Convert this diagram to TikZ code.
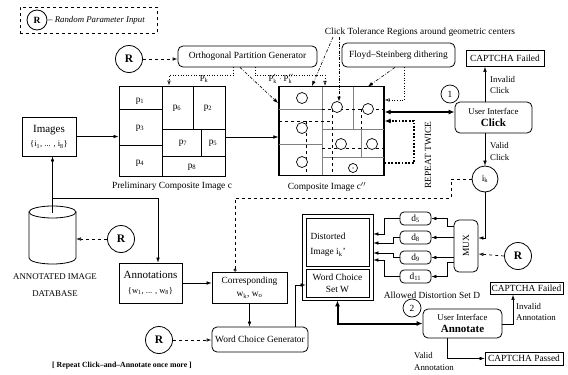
\documentclass[tikz,border=0pt]{standalone}
\usepackage{fontspec}
\setmainfont{Liberation Serif}
\usetikzlibrary{arrows.meta,calc}
\tikzset{
  base/.style={font=\fontsize{9.4}{10.8}\selectfont},
  box/.style={base,draw,line width=0.8pt,inner sep=1pt,align=center},
  rbox/.style={box,rounded corners=5pt},
  rcirc/.style={draw,circle,line width=0.8pt,minimum size=27pt,inner sep=0pt,font=\bfseries\fontsize{11.5}{12}\selectfont},
  ncirc/.style={draw,circle,line width=0.7pt,minimum size=18pt,inner sep=0pt,base},
  arr/.style={line width=0.6pt,-{Latex[length=5pt,width=3.6pt]}},
  darr/.style={line width=0.7pt,dashed,-{Latex[open,length=5pt,width=3.6pt]}},
  dotarr/.style={line width=0.6pt,dotted,-{Latex[open,length=5pt,width=3.6pt]}},
  ddarr/.style={line width=0.6pt,dash pattern=on 3pt off 1.5pt on 0.8pt off 1.5pt,-{Latex[length=5pt,width=3.6pt]}},
  thickarr/.style={line width=2pt,{Latex[length=6pt,width=5pt]}-{Latex[length=6pt,width=5pt]}},
  part/.style={line width=0.8pt},
  gpart/.style={line width=0.9pt,gray},
  tol/.style={line width=0.7pt,dashed},
  lbl/.style={base,inner sep=1pt}
}
\begin{document}
\begin{tikzpicture}[x=1pt,y=-1pt]
\useasboundingbox (0,0) rectangle (568,375);

% legend
\node[draw,dashed,line width=0.7pt,minimum width=137pt,minimum height=26pt] (legend) at (88.5,20) {};
\node[rcirc,minimum size=20pt,font=\bfseries\fontsize{9.5}{10}\selectfont] (legR) at (37,20) {R};
\node[lbl,anchor=west,font=\fontsize{8.8}{10}\selectfont] (legT) at (47,20) {-- \textit{Random Parameter Input}};

% orthogonal partition generator
\node[rcirc] (Rtop) at (129,59) {R};
\node[rbox,minimum width=139pt,minimum height=21pt] (opg) at (247.5,56.5) {Orthogonal Partition Generator};
\draw[darr] (Rtop) -- (Rtop -| opg.west);

% preliminary composite
\node[draw,line width=1pt,minimum width=106pt,minimum height=90pt] (prelim) at (172,131) {};
\draw[part] (162,86)--(162,176) (119,109)--(162,109) (119,145)--(162,145)
  (193,86)--(193,129) (162,129)--(225,129) (201,129)--(201,156) (162,156)--(225,156);
\node[lbl] (p1) at (140,101) {p\textsubscript{1}};
\node[lbl] (p3) at (140,128) {p\textsubscript{3}};
\node[lbl] (p4) at (140,163) {p\textsubscript{4}};
\node[lbl] (p6) at (177,108) {p\textsubscript{6}};
\node[lbl] (p2) at (208,108) {p\textsubscript{2}};
\node[lbl] (p7) at (183,143) {p\textsubscript{7}};
\node[lbl] (p5) at (213,143) {p\textsubscript{5}};
\node[lbl] (p8) at (192,167) {p$_{\mathrm{8}}$};
\node[lbl] (prelimcap) at (172,186) {Preliminary Composite Image c};

% composite image
\node[draw,line width=1.2pt,minimum width=105pt,minimum height=89pt] (comp) at (331.5,131) {};
\draw[gpart] (322,87)--(322,175) (279,109)--(322,109) (279,144)--(322,144)
  (353,87)--(353,129) (322,129)--(384,129) (361,129)--(361,157) (322,157)--(384,157);
\draw[tol] (279,121)--(332,121) (306,121)--(306,175) (332,109)--(332,175)
  (322,109)--(384,109) (361,109)--(361,129) (322,148)--(384,148);
\foreach \cx/\cy in {302/98,337/107,368/109,302/128,341/144,372/144,302/162}
  \draw[line width=0.7pt,fill=white] (\cx,\cy) circle (5.5);
\draw[line width=0.7pt,fill=white] (353,168) circle (4.5);
\fill (353,168) circle (0.7);
\node[lbl] (compcap) at (327,187) {Composite Image c$''$};

% dotted partition feeds
\coordinate (pkx) at (169,0);
\coordinate (pqx) at (325,0);
\draw[dotarr] ($(opg.south)+(-14.5,0)$) -- ++(0,8) -| (pkx |- prelim.north);
\draw[dotarr] ($(opg.south)+(7.5,0)$) -- ++(0,8) -| (pqx |- comp.north);
\node[lbl,font=\fontsize{8.8}{10}\selectfont] (pklab) at (204,79) {P\textsubscript{k}};
\node[lbl,font=\fontsize{8.8}{10}\selectfont] (pqlab) at (281,79) {$\mathrm{P}'_{\mathrm{k}}\cdot\mathrm{P}''_{\mathrm{k}}$};
\coordinate (opgT) at (278,103);
\draw[ddarr] ($(opg.south)+(-7.5,0)$) -- (opgT);

% click tolerance label
\node[lbl] (ctr) at (420,32) {Click Tolerance Regions around geometric centers};
\coordinate (ct0a) at (333,37);
\coordinate (ct0b) at (339,37);
\coordinate (ct1) at (312,86);
\coordinate (ct2) at (339,101.5);
\draw[ddarr] (ct0a) -- (ct1);
\draw[ddarr] (ct0b) -- (ct2);

% Floyd-Steinberg
\node[rbox,minimum width=113pt,minimum height=24pt] (floyd) at (398.5,55) {Floyd--Steinberg dithering};
\coordinate (fsT) at (368,86.5);
\draw[ddarr] ($(floyd.south)+(-3.5,0)$) -- (fsT);
\coordinate (c10) at (0,100);
\draw[dotarr] ($(floyd.south)+(5.5,0)$) |- (comp.east |- c10);

% images and database
\node[box,minimum width=54pt,minimum height=39pt] (images) at (49,136.5)
  {\fontsize{11}{12}\selectfont Images\\[4pt]\fontsize{8.5}{9}\selectfont \{i\textsubscript{1}, ... , i\textsubscript{8}\}};
\draw[arr] (images.east) -- (images.east -| prelim.west);
\draw[arr] ($(prelim.east)+(0,6)$) -- ($(comp.west)+(0,6)$);

\draw[line width=0.8pt] (52.5,212) ellipse[x radius=23.5,y radius=6];
\draw[line width=0.8pt] (29,212) -- (29,258) arc[start angle=180,end angle=0,x radius=23.5,y radius=6] -- (76,212);
\coordinate (dbtop) at (52.5,213);
\coordinate (dbR) at (76,239);
\coordinate (br) at (52.5,198);
\coordinate (brc) at (158,198);
\node[lbl,align=center,font=\fontsize{8.8}{17}\selectfont] (dblabel) at (55,285.5) {ANNOTATED IMAGE\\DATABASE};
\draw[arr] (dbtop) -- (dbtop |- images.south);
\node[rcirc] (Rdb) at (121,239) {R};
\draw[darr] (Rdb.west) -- (dbR);

\node[box,minimum width=63pt,minimum height=40pt] (annot) at (150.5,283)
  {\fontsize{11}{12}\selectfont Annotations\\[4pt]\fontsize{8.5}{9}\selectfont \{w\textsubscript{1}, ... , w\textsubscript{8}\}};
\draw[arr] (br) -- (brc) -- (brc |- annot.north);

\node[box,minimum width=75pt,minimum height=31pt] (corr) at (249.5,287.5) {Corresponding\\[3pt]w\textsubscript{k}, w\textsubscript{o}};
\draw[arr] (annot.east) -- (annot.east -| corr.west);

\node[rbox,minimum width=96pt,minimum height=25pt] (wcg) at (260,339.5) {Word Choice Generator};
\draw[arr] (corr.south) -- (corr.south |- wcg.north);
\node[rcirc] (Rwcg) at (159,340) {R};
\draw[darr] (Rwcg) -- (Rwcg -| wcg.west);

\node[lbl,font=\bfseries\fontsize{7.8}{9}\selectfont] (rep2) at (122,366) {[ Repeat Click--and--Annotate once more ]};

% distortion set box
\node[draw,line width=0.8pt,minimum width=71pt,minimum height=86pt] (D) at (337.5,257) {};
\node[box,minimum width=63pt,minimum height=48pt] (dist) at (337.5,242) {};
\node[lbl,align=center] (distT) at (328,245) {Distorted\\[4pt]Image i\textsubscript{k}'};
\node[box,minimum width=63pt,minimum height=28pt] (wcs) at (337.5,283) {Word Choice\\[1pt]Set W};
\coordinate (c3) at (295,285);
\draw[arr] (c3 |- wcg.north) -- (c3) -- (c3 -| wcs.west);

% annotate UI
\node[rbox,minimum width=79pt,minimum height=29pt] (uia) at (462.5,323.5)
  {\fontsize{8.8}{10}\selectfont User Interface\\[1pt]\fontsize{11}{12}\selectfont\bfseries Annotate};
\node[ncirc] (n2) at (412,308) {2};
\draw[thickarr] (D.south) -- (D.south |- uia.west) -- (uia.west);
\node[box,minimum width=73pt,minimum height=12pt] (cf2) at (526.5,288.5) {CAPTCHA Failed};
\coordinate (c4) at (513,324);
\draw[arr] (uia.east |- c4) -- (c4) -- (c4 |- cf2.south);
\node[lbl,anchor=west,align=left,font=\fontsize{8.8}{10.5}\selectfont] (invA) at (515,312) {Invalid\\Annotation};
\node[box,minimum width=78pt,minimum height=13pt] (cp) at (524,358.5) {CAPTCHA Passed};
\coordinate (c5) at (447,358.5);
\draw[arr] (c5 |- uia.south) -- (c5) -- (cp.west);
\node[lbl,anchor=west,align=left,font=\fontsize{8.8}{12}\selectfont] (valA) at (413,361) {Valid\\Annotation};

% MUX and distortions
\node[rbox,minimum width=24pt,minimum height=52pt] (mux) at (466,246) {};
\node[lbl,rotate=90] (muxT) at (mux) {MUX};
\node[ncirc,minimum size=26pt,line width=0.8pt] (ik) at (485,179) {i\textsubscript{k}};
\draw[arr] (ik.south) |- ($(mux.east)+(0,-8)$);
\node[rcirc] (Rmux) at (518,256) {R};
\draw[darr] (Rmux.west) -- ($(mux.east)+(0,8)$);

\node[rbox,rounded corners=4pt,minimum width=31pt,minimum height=13pt,inner sep=0pt] (d5) at (415.5,218.5) {d\textsubscript{5}};
\node[rbox,rounded corners=4pt,minimum width=31pt,minimum height=13pt,inner sep=0pt] (d8) at (415.5,237.5) {d\textsubscript{8}};
\node[rbox,rounded corners=4pt,minimum width=31pt,minimum height=13pt,inner sep=0pt] (d9) at (415.5,257.5) {d\textsubscript{9}};
\node[rbox,rounded corners=4pt,minimum width=31pt,minimum height=13pt,inner sep=0pt] (d11) at (415.5,276.5) {d\textsubscript{11}};
\draw[arr] ($(mux.west)+(0,-20)$) -- ++(-6,0) |- (d5.east);
\draw[arr] (mux.west |- d8.east) -- (d8.east);
\draw[arr] (mux.west |- d9.east) -- (d9.east);
\draw[arr] ($(mux.west)+(0,16)$) -- ++(-6,0) |- (d11.east);
\draw[arr] (d5.west) -- ++(-15,0) |- ($(D.east)+(0,-23)$);
\draw[arr] (d8.west) -- ++(-6,0) |- ($(D.east)+(0,-14)$);
\draw[arr] (d9.west) -- ++(-6,0) |- ($(D.east)+(0,-4)$);
\draw[arr] (d11.west) -- ++(-15,0) |- ($(D.east)+(0,3)$);
\node[lbl] (dlabel) at (432,295) {Allowed Distortion Set D};

% click UI
\node[rbox,minimum width=77pt,minimum height=31pt] (uic) at (493.5,117.5)
  {\fontsize{8.8}{10}\selectfont User Interface\\[1pt]\fontsize{11}{12}\selectfont\bfseries Click};
\node[ncirc] (n1) at (450,94) {1};
\node[box,minimum width=78pt,minimum height=16pt] (cf1) at (505,58.5) {CAPTCHA Failed};
\coordinate (c6) at (485,0);
\draw[arr] (c6 |- uic.north) -- (c6 |- cf1.south);
\node[lbl,anchor=west,align=left,font=\fontsize{8.8}{11}\selectfont] (invC) at (489,85) {Invalid\\Click};
\draw[arr] (c6 |- uic.south) -- (ik.north);
\node[lbl,anchor=west,align=left,font=\fontsize{8.8}{12}\selectfont] (valC) at (489,151) {Valid\\Click};
\coordinate (c7) at (0,112);
\draw[thickarr] (comp.east |- c7) -- (uic.west |- c7);
\coordinate (c8) at (414,163);
\coordinate (c9) at (414,121);
\draw[line width=1.8pt,dash pattern=on 1.8pt off 1.6pt,-{Latex[length=6pt,width=5pt]}] (comp.east |- c8) -- (c8) -- (c9) -- (comp.east |- c9);
\node[lbl,rotate=90] (rep) at (428,155) {REPEAT TWICE};

% dashed feedback from i_k to corresponding
\coordinate (c1) at (451,198);
\coordinate (c2) at (235,198);
\draw[line width=0.7pt,dashed,-{Circle[open,length=3pt]}] (ik.west) -| (c1) -- (c2) -- (c2 |- corr.north);
\end{tikzpicture}
\end{document}
